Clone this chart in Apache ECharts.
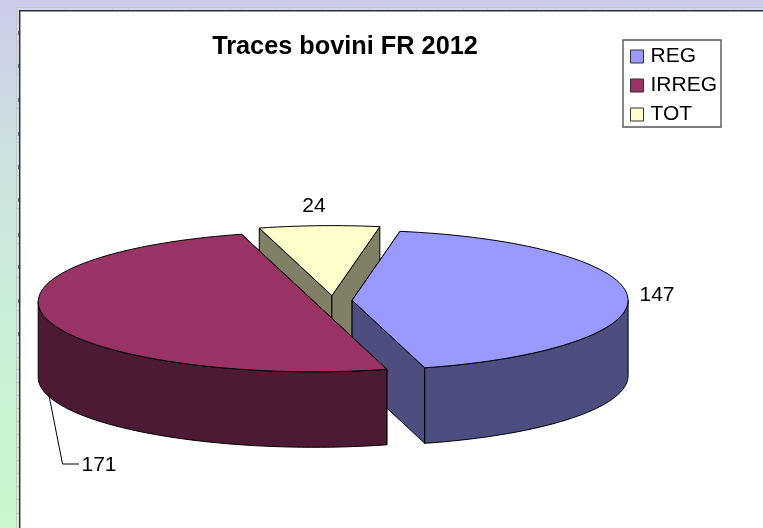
<!DOCTYPE html>
<html><head><meta charset="utf-8">
<style>html,body{margin:0;padding:0;background:#fff}#c{width:763px;height:528px}</style>
<script src="https://cdn.jsdelivr.net/npm/echarts@6/dist/echarts.min.js"></script>
</head><body><div id="c"></div>
<script>
const categories = ['REG', 'IRREG', 'TOT'];
const values = [147, 171, 24];
const topColors = ['#9999FF', '#993366', '#FFFFCC'];
const wallColors = ['#4D4D80', '#4D1A33', '#808066'];
const titleText = 'Traces bovini FR 2012';
const rulerTopTicks = [65, 112, 128, 171, 190, 230, 241, 276, 289, 322, 339, 369, 388, 416, 437, 463, 487, 509, 536, 555, 585, 602, 635, 648, 684, 694, 733, 741];
const rulerLeftTicks = [41, 74, 108, 142, 175, 208, 243, 277, 310, 343, 357, 369, 382, 395, 408, 421, 434, 447, 460, 473, 486, 499, 513];
const rulerLeftMarks = [31, 64, 98, 132, 165, 198, 233, 265, 299, 332];

const total = values.reduce((s, v) => s + v, 0);
const G = {cx: 332.8, cy: 300.5, a: 276, b: 70, h: 75.5, explode: 19.3, start: 10};
const FONT = 'Liberation Sans, Arial, sans-serif';
const labelPos = [[657, 295], [99, 465], [314, 206]];

function sliceAngles(i) {
  let before = 0;
  for (let k = 0; k < i; k++) before += values[k];
  return [G.start + before / total * 360, G.start + (before + values[i]) / total * 360];
}
function rad(d) { return d * Math.PI / 180; }
function renderSlice(params, api) {
  const i = params.seriesIndex;
  const [a0, a1] = sliceAngles(i);
  const mid = (a0 + a1) / 2;
  const ox = G.cx + G.explode * Math.sin(rad(mid));
  const oy = G.cy - G.explode * G.b / G.a * Math.cos(rad(mid));
  const pt = d => [ox + G.a * Math.sin(rad(d)), oy - G.b * Math.cos(rad(d))];
  const down = p => [p[0], p[1] + G.h];
  const apex = [ox, oy];
  const arc = (s, e) => {
    const n = Math.max(2, Math.ceil((e - s) / 2));
    const out = [];
    for (let k = 0; k <= n; k++) out.push(pt(s + (e - s) * k / n));
    return out;
  };
  const children = [];
  const poly = (points, fill) => children.push({
    type: 'polygon', shape: {points},
    style: {fill, stroke: '#000', lineWidth: 1, lineJoin: 'round'}
  });
  const wall = wallColors[i];
  poly([apex, pt(a0), down(pt(a0)), down(apex)], wall);
  poly([apex, pt(a1), down(pt(a1)), down(apex)], wall);
  const fs = Math.max(a0, 90), fe = Math.min(a1, 270);
  if (fe > fs) {
    const top = arc(fs, fe);
    poly(top.concat(top.slice().reverse().map(down)), wall);
  }
  poly([apex].concat(arc(a0, a1)), topColors[i]);
  if (categories[i] === 'IRREG') {
    children.push({type: 'polyline', shape: {points: [[48.5, 393], [62.5, 464], [79, 464]]},
      style: {fill: null, stroke: '#000', lineWidth: 1}});
  }
  children.push({type: 'text', style: {
    text: String(api.value(0)), x: labelPos[i][0], y: labelPos[i][1],
    align: 'center', verticalAlign: 'middle', font: '21px ' + FONT, fill: '#000'
  }});
  return {type: 'group', children};
}

const tickLine = (x1, y1, x2, y2, stroke, w, z) => ({type: 'line', shape: {x1, y1, x2, y2}, style: {stroke, lineWidth: w}, z, silent: true});
const frame = [
  {type: 'rect', shape: {x: 16.5, y: 7.5, width: 760, height: 530}, style: {fill: 'rgba(255,255,255,0.18)', stroke: '#c6c6c6', lineWidth: 1}, z: 0},
  ...rulerTopTicks.map(x => tickLine(x + 0.5, 8, x + 0.5, 10, '#c6c6c6', 1, 0)),
  ...rulerLeftTicks.map(y => tickLine(17, y + 0.5, 19, y + 0.5, '#c6c6c6', 1, 0)),
  ...rulerLeftMarks.map(y => tickLine(18.5, y, 18.5, y + 4, '#6a7078', 1, 0)),
  {type: 'rect', shape: {x: 19.7, y: 10.7, width: 760, height: 530}, style: {fill: '#fff', stroke: '#2f2f3a', lineWidth: 1.5}, z: 1}
];

const chart = echarts.init(document.getElementById('c'), null, {renderer: 'canvas'});
chart.setOption({
  animation: false,
  backgroundColor: {type: 'linear', x: 0, y: 0, x2: 0, y2: 1,
    colorStops: [{offset: 0, color: '#CCCCEA'}, {offset: 0.3, color: '#CCE2E0'}, {offset: 0.7, color: '#C9F2D4'}, {offset: 1, color: '#C8F8CC'}]},
  title: {text: titleText, left: 345, top: 35, textAlign: 'center',
    textStyle: {fontFamily: FONT, fontWeight: 'bold', fontSize: 25.3, color: '#000'}, padding: 0},
  legend: {
    orient: 'vertical', left: 623, top: 40, padding: [6, 4, 2, 7], itemGap: 8,
    data: categories, icon: 'rect', itemWidth: 13, itemHeight: 13,
    backgroundColor: '#fff', borderColor: '#555', borderWidth: 1.4, borderRadius: 0,
    itemStyle: {borderColor: '#333', borderWidth: 1},
    textStyle: {fontFamily: FONT, fontSize: 21, color: '#000', padding: [0, 0, 0, 2]},
    selectedMode: false
  },
  graphic: frame,
  series: categories.map((name, i) => ({
    type: 'custom', name, coordinateSystem: 'none', renderItem: renderSlice,
    data: [values[i]], itemStyle: {color: topColors[i]}, clip: false,
    z: [3, 4, 2][i], silent: true
  }))
});
</script></body></html>
